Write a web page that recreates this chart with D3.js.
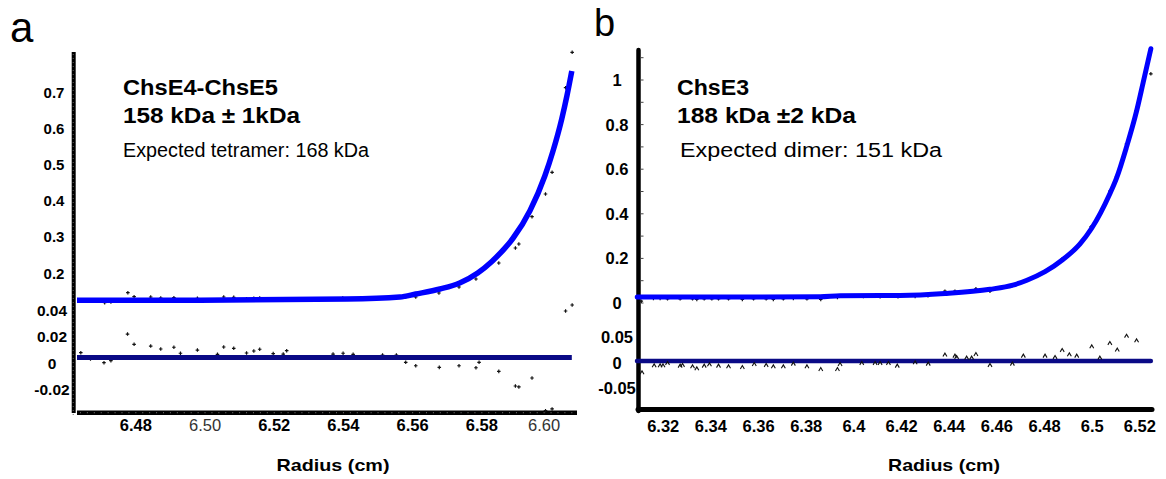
<!DOCTYPE html>
<html><head><meta charset="utf-8">
<script src="https://cdn.jsdelivr.net/npm/d3@7"></script>
<style>body{margin:0;background:#fff} svg{display:block}</style>
</head><body>
<svg id="chart" width="1166" height="479"></svg>
<script>
// ---------- Panel a (ChsE4-ChsE5) ----------
const aXTicks = [6.48, 6.50, 6.52, 6.54, 6.56, 6.58, 6.60];
const aYTicks = [0.2, 0.3, 0.4, 0.5, 0.6, 0.7];
const aResTicks = [0.04, 0.02, 0, -0.02];
const aFitX = [6.463, 6.4985, 6.541, 6.5563, 6.5609, 6.5679, 6.5736, 6.5788, 6.5829, 6.5866, 6.5890, 6.5939, 6.5982, 6.6005, 6.6031, 6.6046, 6.606];
const aFitY = [0.125, 0.125, 0.128, 0.1337, 0.142, 0.1558, 0.1724, 0.2, 0.232, 0.268, 0.296, 0.372, 0.468, 0.535, 0.626, 0.69, 0.758];
const aDataX = [6.4710, 6.4728, 6.4777, 6.4795, 6.4843, 6.4872, 6.4910, 6.4978, 6.5054, 6.5083, 6.5120, 6.5141, 6.5158, 6.5197, 6.5236, 6.5398, 6.5580, 6.5609, 6.5676, 6.5734, 6.5783, 6.5849, 6.5897, 6.5907, 6.5945, 6.5984, 6.6003, 6.6042, 6.6061];
const aDataY = [0.1180, 0.1199, 0.1456, 0.1345, 0.1337, 0.1309, 0.1318, 0.1301, 0.1337, 0.1329, 0.1290, 0.1301, 0.1309, 0.1282, 0.1290, 0.1309, 0.1337, 0.1337, 0.1448, 0.1613, 0.1834, 0.2276, 0.2691, 0.2801, 0.3555, 0.4182, 0.4782, 0.7119, 0.8097];
const aResX = [6.4641, 6.4669, 6.4708, 6.4728, 6.4776, 6.4795, 6.4843, 6.4872, 6.4910, 6.4929, 6.4978, 6.5036, 6.5054, 6.5083, 6.5120, 6.5141, 6.5158, 6.5197, 6.5226, 6.5236, 6.5370, 6.5399, 6.5428, 6.5513, 6.5553, 6.5580, 6.5609, 6.5677, 6.5734, 6.5783, 6.5792, 6.5849, 6.5897, 6.5907, 6.5945, 6.5984, 6.6003, 6.6042, 6.6061];
const aResY = [0.0036, -0.0011, -0.0039, -0.0024, 0.0176, 0.0099, 0.0086, 0.0064, 0.0077, 0.0032, 0.0056, 0.0024, 0.0079, 0.0069, 0.0034, 0.0049, 0.0062, 0.0029, 0.0026, 0.0051, 0.0026, 0.0032, 0.0024, 0.0019, 0.0019, -0.0036, -0.0062, -0.0074, -0.0062, -0.0077, -0.0036, -0.0104, -0.0214, -0.0221, -0.0154, -0.0399, -0.0386, 0.0349, 0.0394];
const aResLineX = [6.463, 6.606];
const aTitle = ["ChsE4-ChsE5", "158 kDa \u00b1 1kDa", "Expected tetramer: 168 kDa"];

// ---------- Panel b (ChsE3) ----------
const bXTicks = [6.32, 6.34, 6.36, 6.38, 6.4, 6.42, 6.44, 6.46, 6.48, 6.5, 6.52];
const bYTicks = [0, 0.2, 0.4, 0.6, 0.8, 1];
const bYMinor = [0, 0.1, 0.2, 0.3, 0.4, 0.5, 0.6, 0.7, 0.8, 0.9, 1.0, 1.1];
const bResTicks = [0.05, 0, -0.05];
const bFitX = [6.3091, 6.3439, 6.3858, 6.3942, 6.4194, 6.4382, 6.4571, 6.4667, 6.4726, 6.4802, 6.4877, 6.4948, 6.4997, 6.5074, 6.5102, 6.5144, 6.5186, 6.5214, 6.5246];
const bFitY = [0.0269, 0.0269, 0.0278, 0.0323, 0.0336, 0.0426, 0.0615, 0.0800, 0.1020, 0.1404, 0.1950, 0.2640, 0.3340, 0.4900, 0.5600, 0.7000, 0.8600, 0.9900, 1.1400];
const bDataX = [6.3108, 6.3159, 6.3187, 6.3218, 6.3271, 6.3323, 6.3341, 6.3372, 6.3404, 6.3432, 6.3474, 6.3532, 6.3579, 6.3632, 6.3662, 6.3704, 6.3746, 6.3803, 6.3861, 6.3931, 6.4040, 6.4110, 6.4185, 6.4257, 6.4311, 6.4382, 6.4424, 6.4512, 6.4571, 6.4662, 6.4802, 6.4874, 6.4904, 6.4995, 6.5074, 6.5102, 6.5144, 6.5183, 6.5246];
const bDataY = [0.0058, 0.0179, 0.0179, 0.0166, 0.0166, 0.0166, 0.0135, 0.0166, 0.0166, 0.0166, 0.0166, 0.0135, 0.0166, 0.0166, 0.0135, 0.0166, 0.0179, 0.0166, 0.0135, 0.0224, 0.0269, 0.0256, 0.0256, 0.0269, 0.0300, 0.0507, 0.0507, 0.0614, 0.0507, 0.0731, 0.1404, 0.1960, 0.2152, 0.3395, 0.4991, 0.5637, 0.7117, 0.8578, 1.0256];
const bResX = [6.3111, 6.3162, 6.3187, 6.3199, 6.3218, 6.3271, 6.3281, 6.3323, 6.3341, 6.3372, 6.3394, 6.3432, 6.3474, 6.3532, 6.3582, 6.3632, 6.3662, 6.3704, 6.3746, 6.3803, 6.3861, 6.3931, 6.3942, 6.4033, 6.4089, 6.4110, 6.4145, 6.4182, 6.4257, 6.4312, 6.4382, 6.4424, 6.4431, 6.4473, 6.4494, 6.4512, 6.4571, 6.4665, 6.4711, 6.4802, 6.4844, 6.4874, 6.4904, 6.4935, 6.4998, 6.5032, 6.5074, 6.5105, 6.5144, 6.5186];
const bResY = [-0.0229, -0.0092, -0.0092, -0.0092, -0.0045, -0.0098, -0.0084, -0.0112, -0.0151, -0.0098, -0.0073, -0.0098, -0.0112, -0.0124, -0.0065, -0.0084, -0.0112, -0.0112, -0.0059, -0.0112, -0.0163, -0.0163, -0.0065, -0.0045, -0.0045, -0.0045, -0.0045, -0.0098, -0.0033, -0.0059, 0.0118, 0.0098, 0.0073, 0.0059, 0.0059, 0.0131, -0.0084, -0.0059, 0.0098, 0.0098, 0.0073, 0.0210, 0.0124, 0.0098, 0.0280, 0.0059, 0.0347, 0.0216, 0.0490, 0.0398];
const bResLineX = [6.309, 6.5246];
const bTitle = ["ChsE3", "188 kDa \u00b12 kDa", "Expected dimer: 151 kDa"];

const xTitle = "Radius (cm)";
const panelLabels = ["a", "b"];

// ---------- drawing ----------
const FONT = "'Liberation Sans', Arial, Helvetica, sans-serif";
const FIT = "#0000ff";
const RES = "#0a0a86";
const svg = d3.select("#chart").style("font-family", FONT);

// scales
const ax = d3.scaleLinear().domain([6.463, 6.6075]).range([77, 577]);
const ay = d3.scaleLinear().domain([0.2, 0.7]).range([273, 92]);
const ar = d3.scaleLinear().domain([0, 0.04]).range([357.5, 304.2]);
const bx = d3.scaleLinear().domain([6.309, 6.5255]).range([637, 1153]);
const by = d3.scaleLinear().domain([0, 1]).range([303, 80]);
const br = d3.scaleLinear().domain([-0.05, 0.05]).range([386.5, 335.5]);

const zip = (xs, ys) => xs.map((x, i) => [x, ys[i]]);
const cross = d3.symbol().type(d3.symbolCross).size(7);

// panel labels
svg.append("text").attr("x", 10).attr("y", 42).attr("font-size", 42).text(panelLabels[0]);
svg.append("text").attr("x", 594).attr("y", 36).attr("font-size", 38).text(panelLabels[1]);

// ---- Panel a axes ----
const gA = svg.append("g");
gA.append("line").attr("x1", 73.7).attr("x2", 73.7).attr("y1", 52).attr("y2", 413)
  .attr("stroke", "#000").attr("stroke-width", 4);
gA.append("line").attr("x1", 77).attr("x2", 577).attr("y1", 412.7).attr("y2", 412.7)
  .attr("stroke", "#000").attr("stroke-width", 4.5);
// faint minor ticks inside the axis bars
gA.selectAll(".xm").data(d3.range(6.464, 6.607, 0.002)).join("rect")
  .attr("x", d => ax(d) - 0.5).attr("y", 412.2).attr("width", 1).attr("height", 1)
  .attr("fill", "#777");
gA.selectAll(".ym").data(d3.range(0, 91)).join("rect")
  .attr("x", 72.7).attr("y", d => 54 + d * 4).attr("width", 1).attr("height", 1)
  .attr("fill", "#666");

// x tick labels a
const isLight = d => Math.abs(d - 6.50) < 1e-9 || Math.abs(d - 6.60) < 1e-9;
gA.selectAll(".xt").data(aXTicks).join("text")
  .attr("x", d => ax(d)).attr("y", 431).attr("text-anchor", "middle")
  .attr("font-size", 16.5)
  .attr("font-weight", d => isLight(d) ? "normal" : "bold")
  .attr("fill", d => isLight(d) ? "#333" : "#000")
  .attr("dx", d => Math.abs(d - 6.60) < 1e-9 ? -7 : 0)
  .text(d => d3.format(".2f")(d));
// y tick labels a
gA.selectAll(".yt").data(aYTicks).join("text")
  .attr("x", 54).attr("y", d => ay(d) + 5.5).attr("text-anchor", "middle")
  .attr("font-size", 15).attr("font-weight", "bold").text(d => String(d));
gA.selectAll(".rt").data(aResTicks).join("text")
  .attr("x", 52).attr("y", d => ar(d) + 11.3).attr("text-anchor", "middle")
  .attr("font-size", 15.5).attr("font-weight", "bold").text(d => String(d));

// data a
gA.selectAll(".ad").data(zip(aDataX, aDataY)).join("path")
  .attr("d", cross).attr("transform", d => `translate(${ax(d[0])},${ay(d[1])})`).attr("fill", "#111");
gA.selectAll(".ar").data(zip(aResX, aResY)).join("path")
  .attr("d", cross).attr("transform", d => `translate(${ax(d[0])},${ar(d[1])})`).attr("fill", "#111");
// lines a
gA.append("path").datum(zip(aFitX, aFitY))
  .attr("d", d3.line().x(d => ax(d[0])).y(d => ay(d[1])).curve(d3.curveMonotoneX))
  .attr("fill", "none").attr("stroke", FIT).attr("stroke-width", 5.5);
gA.append("path").datum(aResLineX.map(x => [x, 0]))
  .attr("d", d3.line().x(d => ax(d[0])).y(d => ar(d[1])))
  .attr("fill", "none").attr("stroke", RES).attr("stroke-width", 5);

// titles a
const tA = [[aTitle[0], 95, 21.5, "bold", 155], [aTitle[1], 123, 21.5, "bold", 177], [aTitle[2], 157, 20, "normal", 246]];
tA.forEach(t => svg.append("text").attr("x", 123).attr("y", t[1]).attr("font-size", t[2])
  .attr("font-weight", t[3]).attr("textLength", t[4]).attr("lengthAdjust", "spacingAndGlyphs").text(t[0]));
svg.append("text").attr("x", 333).attr("y", 471)
  .attr("text-anchor", "middle").attr("font-size", 17).attr("font-weight", "bold")
  .attr("textLength", 113).attr("lengthAdjust", "spacingAndGlyphs").text(xTitle);

// ---- Panel b axes ----
const gB = svg.append("g");
gB.append("line").attr("x1", 638.5).attr("x2", 638.5).attr("y1", 50).attr("y2", 411)
  .attr("stroke", "#000").attr("stroke-width", 4.5).attr("stroke-linecap", "round");
gB.append("line").attr("x1", 638).attr("x2", 1152).attr("y1", 409.5).attr("y2", 409.5)
  .attr("stroke", "#000").attr("stroke-width", 5).attr("stroke-linecap", "round");
gB.selectAll(".ym").data(bYMinor).join("line")
  .attr("x1", 640).attr("x2", 643.5).attr("y1", d => by(d)).attr("y2", d => by(d))
  .attr("stroke", "#444").attr("stroke-width", 1);

gB.selectAll(".xt").data(bXTicks).join("text")
  .attr("x", d => bx(d)).attr("y", 431.5).attr("text-anchor", "middle")
  .attr("font-size", 16.5).attr("font-weight", "bold").text(d => String(d));
gB.selectAll(".yt").data(bYTicks).join("text")
  .attr("x", 617).attr("y", d => by(d) + 6).attr("text-anchor", "middle")
  .attr("font-size", 16.5).attr("font-weight", "bold").text(d => String(d));
gB.selectAll(".rt").data(bResTicks).join("text")
  .attr("x", 617).attr("y", d => br(d) + 7.5).attr("text-anchor", "middle")
  .attr("font-size", 16.5).attr("font-weight", "bold").text(d => String(d));

gB.selectAll(".bd").data(zip(bDataX, bDataY)).join("path")
  .attr("d", cross).attr("transform", d => `translate(${bx(d[0])},${by(d[1]) - 0.5})`).attr("fill", "#111");
gB.append("path").datum(zip(bFitX, bFitY))
  .attr("d", d3.line().x(d => bx(d[0])).y(d => by(d[1])).curve(d3.curveMonotoneX))
  .attr("fill", "none").attr("stroke", FIT).attr("stroke-width", 5).attr("stroke-linecap", "round");
gB.append("path").datum(bResLineX.map(x => [x, 0]))
  .attr("d", d3.line().x(d => bx(d[0])).y(d => br(d[1])))
  .attr("fill", "none").attr("stroke", RES).attr("stroke-width", 4.5).attr("stroke-linecap", "round");
gB.selectAll(".br").data(zip(bResX, bResY)).join("path")
  .attr("d", "M-2,1.6L0,-1.8L2,1.6")
  .attr("transform", d => `translate(${bx(d[0])},${br(d[1])})`)
  .attr("fill", "none").attr("stroke", "#111").attr("stroke-width", 1.1);

const tB = [[bTitle[0], 677, 95, 21.5, "bold", 72], [bTitle[1], 677, 123, 21.5, "bold", 179], [bTitle[2], 680, 157, 20, "normal", 262]];
tB.forEach(t => svg.append("text").attr("x", t[1]).attr("y", t[2]).attr("font-size", t[3])
  .attr("font-weight", t[4]).attr("textLength", t[5]).attr("lengthAdjust", "spacingAndGlyphs").text(t[0]));
svg.append("text").attr("x", 944).attr("y", 471)
  .attr("text-anchor", "middle").attr("font-size", 17).attr("font-weight", "bold")
  .attr("textLength", 112).attr("lengthAdjust", "spacingAndGlyphs").text(xTitle);
</script>
</body></html>
